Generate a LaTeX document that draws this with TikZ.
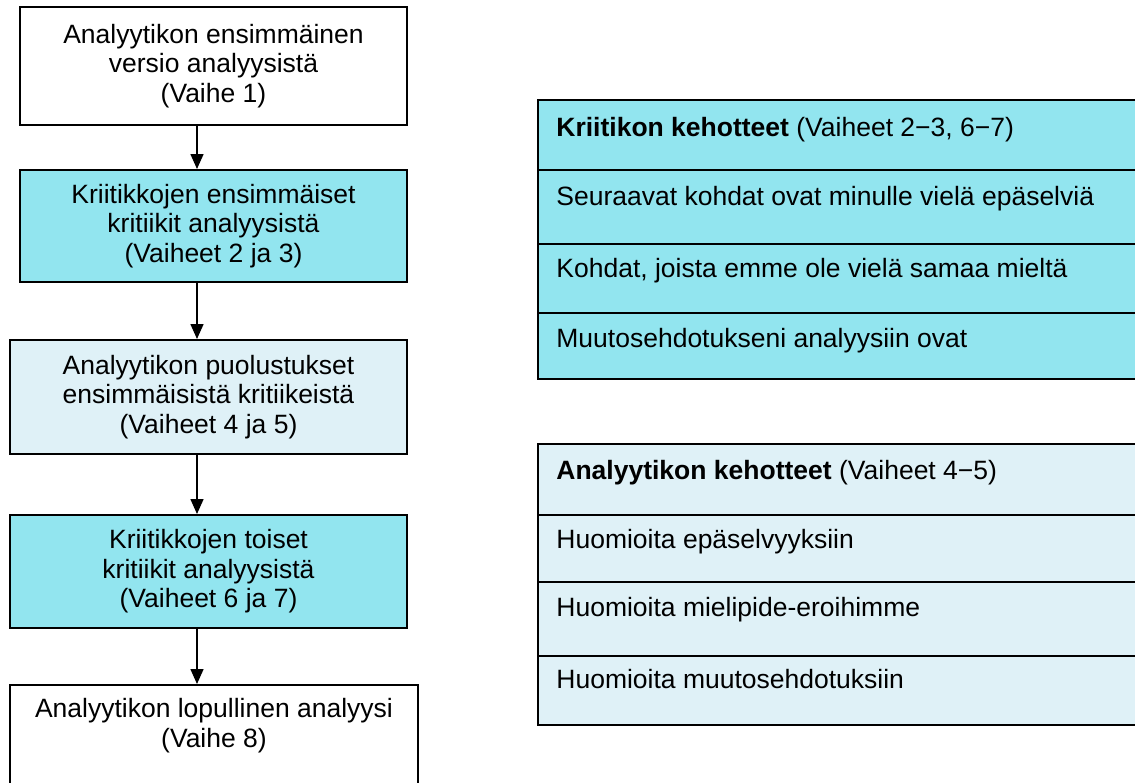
\documentclass[tikz,border=0pt]{standalone}
\usepackage{fontspec}
\setmainfont{Liberation Sans}
\usetikzlibrary{arrows.meta}
\definecolor{cyanbox}{RGB}{146,229,239}
\definecolor{lightbox}{RGB}{223,241,247}
\begin{document}
\begin{tikzpicture}[x=0.5pt,y=-0.5pt,
  flow/.style={draw=black, line width=1pt, align=center, inner sep=0pt,
    font=\fontsize{13.25}{14.75}\selectfont},
  prow/.style={draw=black, line width=1pt, anchor=north west, inner sep=0pt,
    minimum width=310pt},
  rowtext/.style={anchor=base west, inner sep=0pt,
    font=\fontsize{13.25}{15}\selectfont},
  arr/.style={line width=0.75pt, -{Triangle[length=7.5pt,width=6.5pt]}}]
\clip (0,0) rectangle (1135,782);
\fill[white] (0,0) rectangle (1135,782);
% left flow
\node[flow, fill=white, minimum width=193.5pt, minimum height=59pt] (b1) at (213.5,66)
  {Analyytikon ensimmäinen\\versio analyysistä\\(Vaihe 1)};
\node[flow, fill=cyanbox, minimum width=193.5pt, minimum height=56pt] (b2) at (213.5,226)
  {Kriitikkojen ensimmäiset\\kritiikit analyysistä\\(Vaiheet 2 ja 3)};
\node[flow, fill=lightbox, minimum width=198.5pt, minimum height=57pt] (b3) at (208.5,397)
  {Analyytikon puolustukset\\ensimmäisistä kritiikeistä\\(Vaiheet 4 ja 5)};
\node[flow, fill=cyanbox, minimum width=198.5pt, minimum height=56.5pt] (b4) at (208.5,571.5)
  {Kriitikkojen toiset\\kritiikit analyysistä\\(Vaiheet 6 ja 7)};
\node[flow, fill=white, minimum width=204pt, minimum height=57pt] (b5) at (214,742)
  {Analyytikon lopullinen analyysi\\(Vaihe 8)\\\strut};
\coordinate (ax) at (197,0);
\draw[arr] (b1.south -| ax) -- (b2.north -| ax);
\draw[arr] (b2.south -| ax) -- (b3.north -| ax);
\draw[arr] (b3.south -| ax) -- (b4.north -| ax);
\draw[arr] (b4.south -| ax) -- (b5.north -| ax);
% top right panel
\node[prow, fill=cyanbox, minimum height=35pt] (r1) at (537,99) {};
\node[prow, fill=cyanbox, minimum height=37pt] (r2) at (537,169) {};
\node[prow, fill=cyanbox, minimum height=34.5pt] (r3) at (537,243) {};
\node[prow, fill=cyanbox, minimum height=33pt] (r4) at (537,312) {};
\node[rowtext] (t1) at (556,136) {\textbf{Kriitikon kehotteet} (Vaiheet 2−3, 6−7)};
\node[rowtext] (t2) at (556,205) {Seuraavat kohdat ovat minulle vielä epäselviä};
\node[rowtext] (t3) at (556,277) {Kohdat, joista emme ole vielä samaa mieltä};
\node[rowtext] (t4) at (556,347) {Muutosehdotukseni analyysiin ovat};
% bottom right panel
\node[prow, fill=lightbox, minimum height=35.5pt] (s1) at (537,443) {};
\node[prow, fill=lightbox, minimum height=33.5pt] (s2) at (537,514) {};
\node[prow, fill=lightbox, minimum height=37pt] (s3) at (537,581) {};
\node[prow, fill=lightbox, minimum height=34.5pt] (s4) at (537,655) {};
\node[rowtext] (u1) at (556,479) {\textbf{Analyytikon kehotteet} (Vaiheet 4−5)};
\node[rowtext] (u2) at (556,548) {Huomioita epäselvyyksiin};
\node[rowtext] (u3) at (556,616) {Huomioita mielipide-eroihimme};
\node[rowtext] (u4) at (556,688) {Huomioita muutosehdotuksiin};
\end{tikzpicture}
\end{document}
